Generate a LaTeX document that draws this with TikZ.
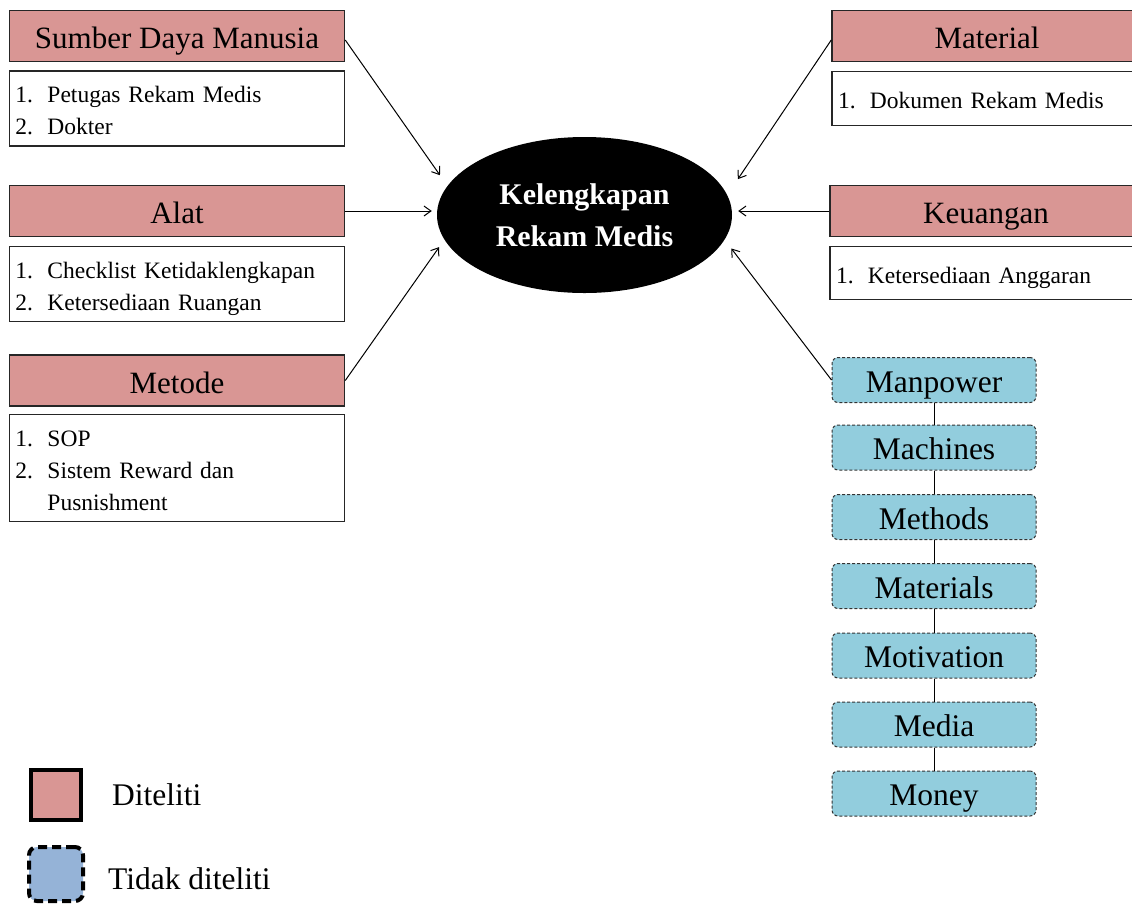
\documentclass[tikz,border=0pt]{standalone}
\usepackage{fontspec}
\setmainfont{Liberation Serif}
\usepackage{tikz}
\usetikzlibrary{shapes.geometric,arrows,arrows.meta}

\definecolor{pinkbox}{RGB}{217,150,148}
\definecolor{bluebox}{RGB}{146,205,221}
\definecolor{legblue}{RGB}{149,179,215}

\newcommand{\hdrfont}{\fontsize{31}{34}\selectfont}
\newcommand{\lstfont}{\fontsize{23.5}{32}\selectfont}
\newcommand{\daftar}[1]{\raisebox{-4pt}[\height][\depth]{\begin{tabular}{@{}p{32pt}@{}l@{}}#1\end{tabular}}}

\begin{document}
\begin{tikzpicture}[x=1pt,y=-1pt,
	hdr/.style={draw=black!85,line width=1.5pt,fill=pinkbox,minimum height=51pt,inner sep=0pt,text height=25pt,text depth=0pt,font=\hdrfont},
	lst/.style={draw=black!85,line width=1.2pt,fill=white,inner xsep=6pt,inner ysep=0pt,align=left,font=\lstfont},
	faktor/.style={draw=black!80,line width=1pt,dash pattern=on 3pt off 2pt,rounded corners=6pt,fill=bluebox,minimum width=204pt,minimum height=45pt,inner sep=0pt,text height=24pt,text depth=0pt,font=\fontsize{31.5}{34}\selectfont},
	panah/.style={-{Straight Barb[length=7pt,width=10pt]},line width=1pt}]
	\useasboundingbox (0,0) rectangle (1132,906);
	%
	% kiri
	\node [hdr,minimum width=335pt] (sdm) at (177,36) {Sumber Daya Manusia};
	\node [lst,text width=323pt,minimum height=75pt] (sdmlst) at (177,108.5) {\daftar{1. & Petugas Rekam Medis\\2. & Dokter}};
	\node [hdr,minimum width=335pt] (alat) at (177,211) {Alat};
	\node [lst,text width=323pt,minimum height=75pt] (alatlst) at (177,284) {\daftar{1. & Checklist Ketidaklengkapan\\2. & Ketersediaan Ruangan}};
	\node [hdr,minimum width=335pt] (met) at (177,380.5) {Metode};
	\node [lst,text width=323pt,minimum height=107pt] (metlst) at (177,468) {\daftar{1. & SOP\\2. & Sistem Reward dan\\ & Pusnishment}};
	%
	% kanan
	\node [hdr,minimum width=310pt] (mat) at (987,36) {Material};
	\node [lst,text width=298pt,minimum height=54pt] (matlst) at (987,98.5) {\daftar{1. & Dokumen Rekam Medis}};
	\node [hdr,minimum width=312pt] (keu) at (986,211) {Keuangan};
	\node [lst,text width=300pt,minimum height=53pt] (keulst) at (986,273) {\daftar{1. & Ketersediaan Anggaran}};
	%
	% tengah
	\node [ellipse,fill=black,minimum width=295pt,minimum height=156pt,inner sep=0pt,text=white,align=center,font=\fontsize{30}{42}\selectfont\bfseries] (rm) at (584.5,215) {Kelengkapan\\Rekam Medis};
	%
	% 7M
	\node [faktor] (man) at (934,380) {Manpower};
	\node [faktor] (mach) at (934,447.5) {Machines};
	\node [faktor] (meth) at (934,517) {Methods};
	\node [faktor] (matl) at (934,586) {Materials};
	\node [faktor] (motv) at (934,655.5) {Motivation};
	\node [faktor] (medi) at (934,724.5) {Media};
	\node [faktor] (mony) at (934,793.5) {Money};
	%
	% legenda
	\node [draw,line width=4pt,fill=pinkbox,minimum size=50pt,inner sep=0pt] (legA) at (56,795) {};
	\node [anchor=west,inner sep=0pt,font=\fontsize{31.5}{34}\selectfont] (legAtxt) at (112,795) {Diteliti};
	\node [draw,line width=4pt,dash pattern=on 9pt off 5pt,rounded corners=8pt,fill=legblue,minimum size=54pt,inner sep=0pt] (legB) at (56,874) {};
	\node [anchor=west,inner sep=0pt,font=\fontsize{31.5}{34}\selectfont] (legBtxt) at (108,879) {Tidak diteliti};
	%
	\draw [panah,shorten >=13pt] ([yshift=-4pt]sdm.east) -- (rm.168);
	\draw [panah,shorten >=5pt] (alat.east) -- (alat.east -| rm.west);
	\draw [panah,shorten >=9pt] (met.east) -- (rm.190.5);
	\draw [panah,shorten >=19pt] ([yshift=-4pt]mat.west) -- (rm.8.9);
	\draw [panah,shorten >=6pt] (keu.west) -- (keu.west -| rm.east);
	\draw [panah,shorten >=11pt] (man.west) -- (rm.350.6);
	%
	\draw [line width=1pt] (man) -- (mach);
	\draw [line width=1pt] (mach) -- (meth);
	\draw [line width=1pt] (meth) -- (matl);
	\draw [line width=1pt] (matl) -- (motv);
	\draw [line width=1pt] (motv) -- (medi);
	\draw [line width=1pt] (medi) -- (mony);
\end{tikzpicture}
\end{document}
